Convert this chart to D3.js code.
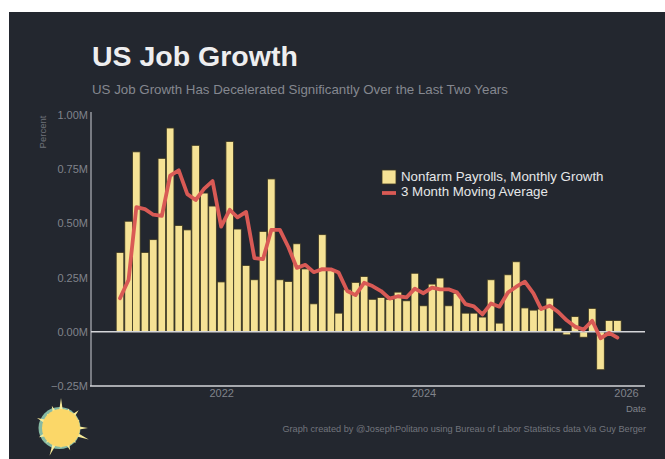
<!DOCTYPE html>
<html>
<head>
<meta charset="utf-8">
<script src="https://cdn.jsdelivr.net/npm/d3@7"></script>
<style>
  html, body { margin: 0; padding: 0; background: #fff; }
  svg { display: block; font-family: "Liberation Sans", Arial, sans-serif; }
</style>
</head>
<body>
<svg id="chart" width="665" height="459"></svg>
<script>
// Monthly change in nonfarm payrolls, millions of jobs, Jan 2021 - Dec 2025
const monthlyGrowth = [
  0.366, 0.51, 0.83, 0.366, 0.425, 0.80, 0.94, 0.49, 0.47, 0.86, 0.64, 0.58,
  0.23, 0.878, 0.474, 0.306, 0.24, 0.463, 0.705, 0.24, 0.232, 0.406, 0.29, 0.129,
  0.448, 0.286, 0.086, 0.194, 0.228, 0.255, 0.15, 0.158, 0.15, 0.183, 0.143, 0.27,
  0.12, 0.22, 0.248, 0.12, 0.178, 0.086, 0.086, 0.068, 0.24, 0.04, 0.263, 0.323,
  0.11, 0.10, 0.105, 0.155, 0.017, -0.014, 0.07, -0.025, 0.108, -0.175, 0.052, 0.052
];
// Three month moving average of the same series
const movingAverage = [
  0.155, 0.24, 0.575, 0.566, 0.54, 0.535, 0.72, 0.745, 0.635, 0.608, 0.66, 0.695,
  0.485, 0.563, 0.528, 0.553, 0.34, 0.335, 0.47, 0.47, 0.39, 0.295, 0.309, 0.275,
  0.289, 0.288, 0.273, 0.188, 0.169, 0.226, 0.211, 0.188, 0.153, 0.164, 0.159, 0.199,
  0.178, 0.204, 0.196, 0.196, 0.182, 0.128, 0.117, 0.08, 0.131, 0.116, 0.181, 0.208,
  0.231, 0.177, 0.105, 0.12, 0.092, 0.053, 0.024, 0.01, 0.051, -0.03, -0.005, -0.027
];
const yTicks = [-0.25, 0, 0.25, 0.5, 0.75, 1];
const xTickYears = [2022, 2024, 2026];
const legendLabels = ["Nonfarm Payrolls, Monthly Growth", "3 Month Moving Average"];
const titleText = "US Job Growth";
const subtitleText = "US Job Growth Has Decelerated Significantly Over the Last Two Years";
const creditText = "Graph created by @JosephPolitano using Bureau of Labor Statistics data Via Guy Berger";
const sunRayLengths = [30, 21, 25, 20, 27, 30, 21, 24, 20, 30, 21, 24, 19, 26, 20, 24];

const months = monthlyGrowth.map((_, i) => new Date(2021, i, 1));
const series = months.map((date, i) => ({ date, growth: monthlyGrowth[i], avg: movingAverage[i] }));

const ink = { panel: "#23272f", bar: "#f5e295", barEdge: "#3a3520", line: "#d95a55",
              axis: "#8e9199", axisBright: "#d5d6da", muted: "#80838b", text: "#e6e7e9" };

const svg = d3.select("#chart");
svg.append("rect").attr("x", 9).attr("y", 12).attr("width", 656).attr("height", 447).attr("fill", ink.panel);

const x = d3.scaleTime().domain([new Date(2021, 0, 1), new Date(2026, 0, 1)]).range([120, 626]);
const y = d3.scaleLinear().domain([-0.25, 1]).range([386, 115]);
const barWidth = 7.6;

// Axes
const xAxis = d3.axisBottom(x)
  .tickValues(xTickYears.map(yr => new Date(yr, 0, 1)))
  .tickFormat(d3.timeFormat("%Y"))
  .tickSize(0).tickPadding(3);
const yAxis = d3.axisLeft(y)
  .tickValues(yTicks)
  .tickFormat(d => d3.format(".2f")(d) + "M")
  .tickSize(0).tickPadding(3);

const gy = svg.append("g").attr("transform", "translate(91,0)").call(yAxis);
gy.select(".domain").remove();
gy.selectAll("text").attr("fill", ink.muted).attr("font-size", 11).attr("font-family", "inherit");
svg.append("line").attr("x1", 91).attr("x2", 91).attr("y1", 112).attr("y2", y(-0.25))
  .attr("stroke", ink.axis).attr("stroke-width", 1.6);

const gx = svg.append("g").attr("transform", "translate(0,386)").call(xAxis);
gx.select(".domain").remove();
gx.selectAll("text").attr("fill", ink.muted).attr("font-size", 11).attr("font-family", "inherit");
svg.append("line").attr("x1", 90).attr("x2", 645).attr("y1", y(-0.25)).attr("y2", y(-0.25))
  .attr("stroke", ink.axisBright).attr("stroke-width", 1.5);

// Bars
svg.append("g").selectAll("rect").data(series).join("rect")
  .attr("x", d => x(d.date) - barWidth / 2)
  .attr("width", barWidth)
  .attr("y", d => Math.min(y(0), y(d.growth)))
  .attr("height", d => Math.abs(y(d.growth) - y(0)))
  .attr("fill", ink.bar)
  .attr("stroke", ink.barEdge).attr("stroke-width", 0.8);

// Zero line
svg.append("line").attr("x1", 91).attr("x2", 645).attr("y1", y(0)).attr("y2", y(0))
  .attr("stroke", ink.axisBright).attr("stroke-width", 1.5);

// Moving average
const line = d3.line().x(d => x(d.date)).y(d => y(d.avg));
svg.append("path").datum(series).attr("d", line)
  .attr("fill", "none").attr("stroke", ink.line).attr("stroke-width", 3.8)
  .attr("stroke-linejoin", "round").attr("stroke-linecap", "round");

// Headline text
svg.append("text").attr("x", 92).attr("y", 66).text(titleText)
  .attr("fill", "#eeeeef").attr("font-size", 28.5).attr("font-weight", 700);
svg.append("text").attr("x", 92).attr("y", 94).text(subtitleText)
  .attr("fill", "#858890").attr("font-size", 13.3);

// Axis titles
svg.append("text").attr("transform", "translate(46,132) rotate(-90)").text("Percent")
  .attr("text-anchor", "middle").attr("fill", "#6f727a").attr("font-size", 9.5);
svg.append("text").attr("x", 646).attr("y", 412).text("Date")
  .attr("text-anchor", "end").attr("fill", ink.muted).attr("font-size", 9.5);

// Legend
const legend = svg.append("g");
legend.append("rect").attr("x", 382).attr("y", 170).attr("width", 14).attr("height", 14)
  .attr("fill", ink.bar).attr("stroke", ink.barEdge).attr("stroke-width", 0.8);
legend.append("line").attr("x1", 382).attr("x2", 396).attr("y1", 193).attr("y2", 193)
  .attr("stroke", ink.line).attr("stroke-width", 3.8);
legend.selectAll("text").data(legendLabels).join("text")
  .attr("x", 401).attr("y", (d, i) => 181 + i * 15).text(d => d)
  .attr("fill", ink.text).attr("font-size", 13.3);

// Credit line
svg.append("text").attr("x", 646).attr("y", 432).text(creditText)
  .attr("text-anchor", "end").attr("fill", "#72757d").attr("font-size", 9.2);

// Sun emblem with a soft mint rim on its left side
const sun = svg.append("g").attr("transform", "translate(61,428)");
const rayPoints = sunRayLengths.flatMap((len, i) => {
  const a = -Math.PI / 2 + (i / sunRayLengths.length) * Math.PI * 2;
  const side = 0.11;
  return [
    [Math.cos(a - side) * 17, Math.sin(a - side) * 17],
    [Math.cos(a) * len, Math.sin(a) * len],
    [Math.cos(a + side) * 17, Math.sin(a + side) * 17]
  ];
});
sun.append("circle").attr("cx", -1.5).attr("r", 21).attr("fill", "#9fe0c2").attr("opacity", 0.8);
sun.append("polygon").attr("points", rayPoints.map(p => p.join(",")).join(" ")).attr("fill", "#f8ec9a");
sun.append("circle").attr("r", 19).attr("fill", "#fbd768");
</script>
</body>
</html>
